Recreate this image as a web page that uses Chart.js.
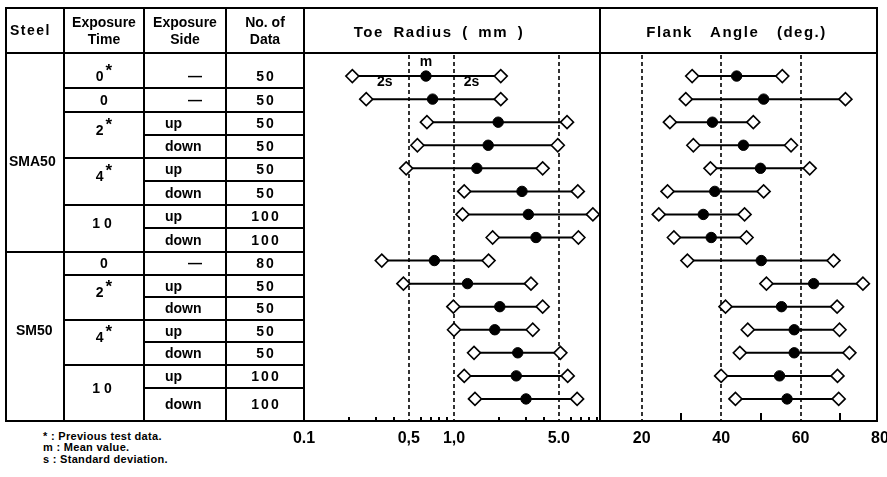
<!DOCTYPE html>
<html>
<head>
<meta charset="utf-8">
<title>Toe radius and flank angle</title>
<script src="https://cdn.jsdelivr.net/npm/chart.js"></script>
<style>
    html, body { margin: 0; padding: 0; background: #fff; }
    body { width: 887px; height: 477px; overflow: hidden; position: relative; font-family: "Liberation Sans", Arial, sans-serif; color: #000; }
    #box { position: absolute; left: 5px; top: 7px; width: 873px; height: 415px; border: 2px solid #000; box-sizing: border-box; z-index: 3; }
    .vline { position: absolute; top: 7px; height: 415px; width: 2px; background: #000; z-index: 3; }
    .hline { position: absolute; height: 2px; background: #000; z-index: 3; }
    .title { position: absolute; top: 10px; height: 43px; display: flex; align-items: center; justify-content: center; box-sizing: border-box; font-weight: bold; font-size: 15px; letter-spacing: 1.5px; z-index: 3; }
    canvas { position: absolute; z-index: 1; }
    #tbl { position: absolute; left: 7px; top: 9px; border-collapse: separate; border-spacing: 0; table-layout: fixed; width: 298px; z-index: 2; }
    #tbl th, #tbl td { box-sizing: border-box; border-right: 2px solid #000; border-bottom: 2px solid #000; padding: 0; font-size: 14px; font-weight: bold; text-align: center; vertical-align: middle; white-space: nowrap; overflow: hidden; line-height: 15px; }
    #tbl th { font-size: 14px; line-height: 17px; }
    #tbl th.steel-h { text-align: left; padding-left: 3px; letter-spacing: 1.5px; }
    #tbl td.steel { text-align: left; padding-left: 4px; }
    #tbl td.side { text-align: left; padding-left: 20px; }
    #tbl td.dash { text-align: center; }
    #tbl td.num { letter-spacing: 2px; padding-left: 2px; }
    #tbl td.time { padding-bottom: 10px; }
    #tbl tr.first td:not(.steel) { vertical-align: bottom; padding-bottom: 3px; }
    #tbl sup { font-size: 17px; line-height: 0; vertical-align: 5px; margin-left: 2px; }
    .note { position: absolute; left: 43px; font-size: 11px; font-weight: bold; line-height: 12px; letter-spacing: 0.3px; white-space: nowrap; }
</style>
</head>
<body>
<table id="tbl"></table>
<canvas id="toe" width="340" height="419" style="left:284px; top:43px;"></canvas>
<canvas id="flank" width="318" height="419" style="left:582px; top:43px;"></canvas>
<div id="box"></div>
<div class="vline" style="left:599px;"></div>
<div class="hline" style="left:305px; top:52px; width:571px;"></div>
<div class="title" style="left:305px; width:294px; padding-right:26px; word-spacing:4px;">Toe Radius ( mm )</div>
<div class="title" style="left:601px; width:275px; padding-right:4px; word-spacing:12px;">Flank Angle (deg.)</div>
<div class="note" style="top:430px;">* : Previous test data.</div>
<div class="note" style="top:441px;">m : Mean value.</div>
<div class="note" style="top:453px;">s : Standard deviation.</div>

<script>
    // table columns
    const steel = ['SMA50', 'SMA50', 'SMA50', 'SMA50', 'SMA50', 'SMA50', 'SMA50', 'SMA50',
        'SM50', 'SM50', 'SM50', 'SM50', 'SM50', 'SM50', 'SM50'];
    const exposureTime = ['0*', '0', '2*', '2*', '4*', '4*', '10', '10',
        '0', '2*', '2*', '4*', '4*', '10', '10'];
    const exposureSide = ['—', '—', 'up', 'down', 'up', 'down', 'up', 'down',
        '—', 'up', 'down', 'up', 'down', 'up', 'down'];
    const numData = [50, 50, 50, 50, 50, 50, 100, 100, 80, 50, 50, 50, 50, 100, 100];

    // toe radius (mm): mean and mean +/- 2s
    const toeMean = [0.65, 0.72, 1.97, 1.69, 1.42, 2.84, 3.13, 3.52, 0.74, 1.23, 2.02, 1.87, 2.66, 2.60, 3.02];
    const toeLow = [0.21, 0.26, 0.66, 0.57, 0.48, 1.17, 1.14, 1.81, 0.33, 0.46, 0.99, 1.00, 1.36, 1.17, 1.38];
    const toeHigh = [2.05, 2.05, 5.67, 4.92, 3.90, 6.69, 8.43, 6.75, 1.70, 3.26, 3.90, 3.35, 5.12, 5.73, 6.62];

    // flank angle (deg.)
    const flankMean = [43.9, 50.7, 37.8, 45.6, 49.9, 38.4, 35.5, 37.5, 50.1, 63.3, 55.2, 58.4, 58.4, 54.7, 56.6];
    const flankLow = [32.7, 31.1, 27.1, 33.0, 37.3, 26.5, 24.3, 28.1, 31.5, 51.4, 41.1, 46.7, 44.7, 40.0, 43.6];
    const flankHigh = [55.4, 71.3, 48.1, 57.6, 62.3, 50.7, 45.9, 46.4, 68.3, 75.7, 69.2, 69.8, 72.3, 69.3, 69.6];

    // axis ticks
    const toeLabelValues = [0.1, 0.5, 1, 5];
    const toeLabelText = ['0.1', '0,5', '1,0', '5.0'];
    const toeMinorTicks = [0.2, 0.3, 0.4, 0.6, 0.7, 0.8, 0.9, 2, 3, 4, 6, 7, 8, 9];
    const toeDashed = [0.5, 1, 5];
    const flankLabelValues = [20, 40, 60, 80];
    const flankLabelText = ['20', '40', '60', '80'];
    const flankMinorTicks = [30, 50, 70];
    const flankDashed = [20, 40, 60];

    // ---- table ----
    const rowHeights = [35, 24, 23, 23, 23, 24, 23, 24, 23, 22, 23, 22, 23, 23, 33];
    let html = '<colgroup><col style="width:58px"><col style="width:80px"><col style="width:82px"><col style="width:78px"></colgroup>';
    html += '<tr style="height:45px"><th class="steel-h">Steel</th><th>Exposure<br>Time</th><th>Exposure<br>Side</th><th>No. of<br>Data</th></tr>';
    const span = (key, i) => {
        let n = 1;
        while (i + n < steel.length && key(i + n) === key(i)) n++;
        return n;
    };
    steel.forEach((s, i) => {
        html += `<tr style="height:${rowHeights[i]}px"${i === 0 ? ' class="first"' : ''}>`;
        if (i === 0 || steel[i - 1] !== s) {
            const n = span(k => steel[k], i);
            const pad = s === 'SMA50' ? 'padding-top:18px;padding-left:2px' : 'padding-bottom:12px;padding-left:9px';
            html += `<td class="steel" rowspan="${n}" style="${pad}">${s}</td>`;
        }
        const tkey = k => steel[k] + '|' + exposureTime[k];
        if (i === 0 || tkey(i - 1) !== tkey(i)) {
            const n = span(tkey, i);
            const t = exposureTime[i].replace('*', '<sup>*</sup>');
            const ls = exposureTime[i] === '10' ? 'letter-spacing:4px;' : '';
            html += `<td${n > 1 ? ' class="time"' : ''} rowspan="${n}" style="${ls}">${t}</td>`;
        }
        const side = exposureSide[i];
        html += `<td class="side${side === '—' ? ' dash' : ''}">${side}</td>`;
        html += `<td class="num">${numData[i]}</td></tr>`;
    });
    document.getElementById('tbl').innerHTML = html;

    // ---- charts ----
    Chart.defaults.font.family = '"Liberation Sans", Arial, sans-serif';
    Chart.defaults.color = '#000';

    const panelMarks = {
        id: 'panelMarks',
        beforeDatasetsDraw(chart, args, opts) {
            const { ctx, chartArea: a, scales: { x } } = chart;
            ctx.save();
            ctx.strokeStyle = '#000';
            ctx.lineWidth = 1.6;
            ctx.setLineDash([4, 3]);
            opts.dashed.forEach(v => {
                const px = Math.round(x.getPixelForValue(v));
                ctx.beginPath();
                ctx.moveTo(px, a.top + 2);
                ctx.lineTo(px, a.bottom);
                ctx.stroke();
            });
            ctx.setLineDash([]);
            ctx.lineWidth = 2;
            opts.ticks.forEach(v => {
                const px = Math.round(x.getPixelForValue(v));
                ctx.beginPath();
                ctx.moveTo(px, a.bottom);
                ctx.lineTo(px, a.bottom - opts.tickLength);
                ctx.stroke();
            });
            ctx.restore();
        },
        afterDatasetsDraw(chart, args, opts) {
            const { ctx, scales: { x, y } } = chart;
            ctx.save();
            ctx.fillStyle = '#000';
            ctx.font = 'bold 14px "Liberation Sans", Arial, sans-serif';
            ctx.textAlign = 'center';
            ctx.textBaseline = 'middle';
            (opts.notes || []).forEach(n => {
                ctx.fillText(n.text, x.getPixelForValue(n.x), y.getPixelForValue(n.y));
            });
            ctx.restore();
        }
    };

    function segments(low, high) {
        const pts = [];
        low.forEach((v, i) => {
            pts.push({ x: v, y: i + 1 }, { x: high[i], y: i + 1 }, { x: null, y: null });
        });
        return pts;
    }

    function buildPanel(id, p) {
        const ends = p.low.map((v, i) => ({ x: v, y: i + 1 }))
            .concat(p.high.map((v, i) => ({ x: v, y: i + 1 })));
        return new Chart(document.getElementById(id), {
            type: 'scatter',
            data: {
                datasets: [{
                    type: 'line',
                    data: segments(p.low, p.high),
                    borderColor: '#000',
                    borderWidth: 2,
                    pointRadius: 0,
                    spanGaps: false,
                    order: 3
                }, {
                    data: ends,
                    pointStyle: 'rectRot',
                    pointRadius: 6.5,
                    pointBackgroundColor: '#fff',
                    pointBorderColor: '#000',
                    pointBorderWidth: 1.6,
                    order: 2
                }, {
                    data: p.mean.map((v, i) => ({ x: v, y: i + 1 })),
                    pointStyle: 'circle',
                    pointRadius: 5.2,
                    pointBackgroundColor: '#000',
                    pointBorderColor: '#000',
                    pointBorderWidth: 1,
                    order: 1
                }]
            },
            options: {
                responsive: false,
                animation: false,
                events: [],
                layout: { padding: { left: 20, right: 20, top: 10, bottom: 0 } },
                plugins: {
                    legend: { display: false },
                    tooltip: { enabled: false },
                    panelMarks: { dashed: p.dashed, ticks: p.minor, tickLength: p.tickLength, notes: p.notes }
                },
                scales: {
                    x: {
                        type: p.type,
                        min: p.min,
                        max: p.max,
                        grid: { display: false, drawTicks: false },
                        border: { display: false },
                        afterBuildTicks: s => { s.ticks = p.labelValues.map(v => ({ value: v })); },
                        afterFit: s => { s.height = 40; s.paddingLeft = 0; s.paddingRight = 0; },
                        ticks: {
                            autoSkip: false,
                            maxRotation: 0,
                            padding: 7,
                            font: { size: 16, weight: 'bold' },
                            callback: v => {
                                const k = p.labelValues.indexOf(v);
                                return k < 0 ? '' : p.labelText[k];
                            }
                        }
                    },
                    y: { type: 'linear', min: 0, max: 16, reverse: true, display: false }
                }
            },
            plugins: [panelMarks]
        });
    }

    buildPanel('toe', {
        type: 'logarithmic', min: 0.1, max: 10,
        low: toeLow, high: toeHigh, mean: toeMean,
        labelValues: toeLabelValues, labelText: toeLabelText,
        minor: toeMinorTicks, dashed: toeDashed, tickLength: 5,
        notes: [
            { text: 'm', x: toeMean[0], y: 0.4 },
            { text: '2s', x: 0.345, y: 1.25 },
            { text: '2s', x: 1.31, y: 1.25 }
        ]
    });

    buildPanel('flank', {
        type: 'linear', min: 10, max: 80,
        low: flankLow, high: flankHigh, mean: flankMean,
        labelValues: flankLabelValues, labelText: flankLabelText,
        minor: flankMinorTicks, dashed: flankDashed, tickLength: 9
    });
</script>
</body>
</html>
